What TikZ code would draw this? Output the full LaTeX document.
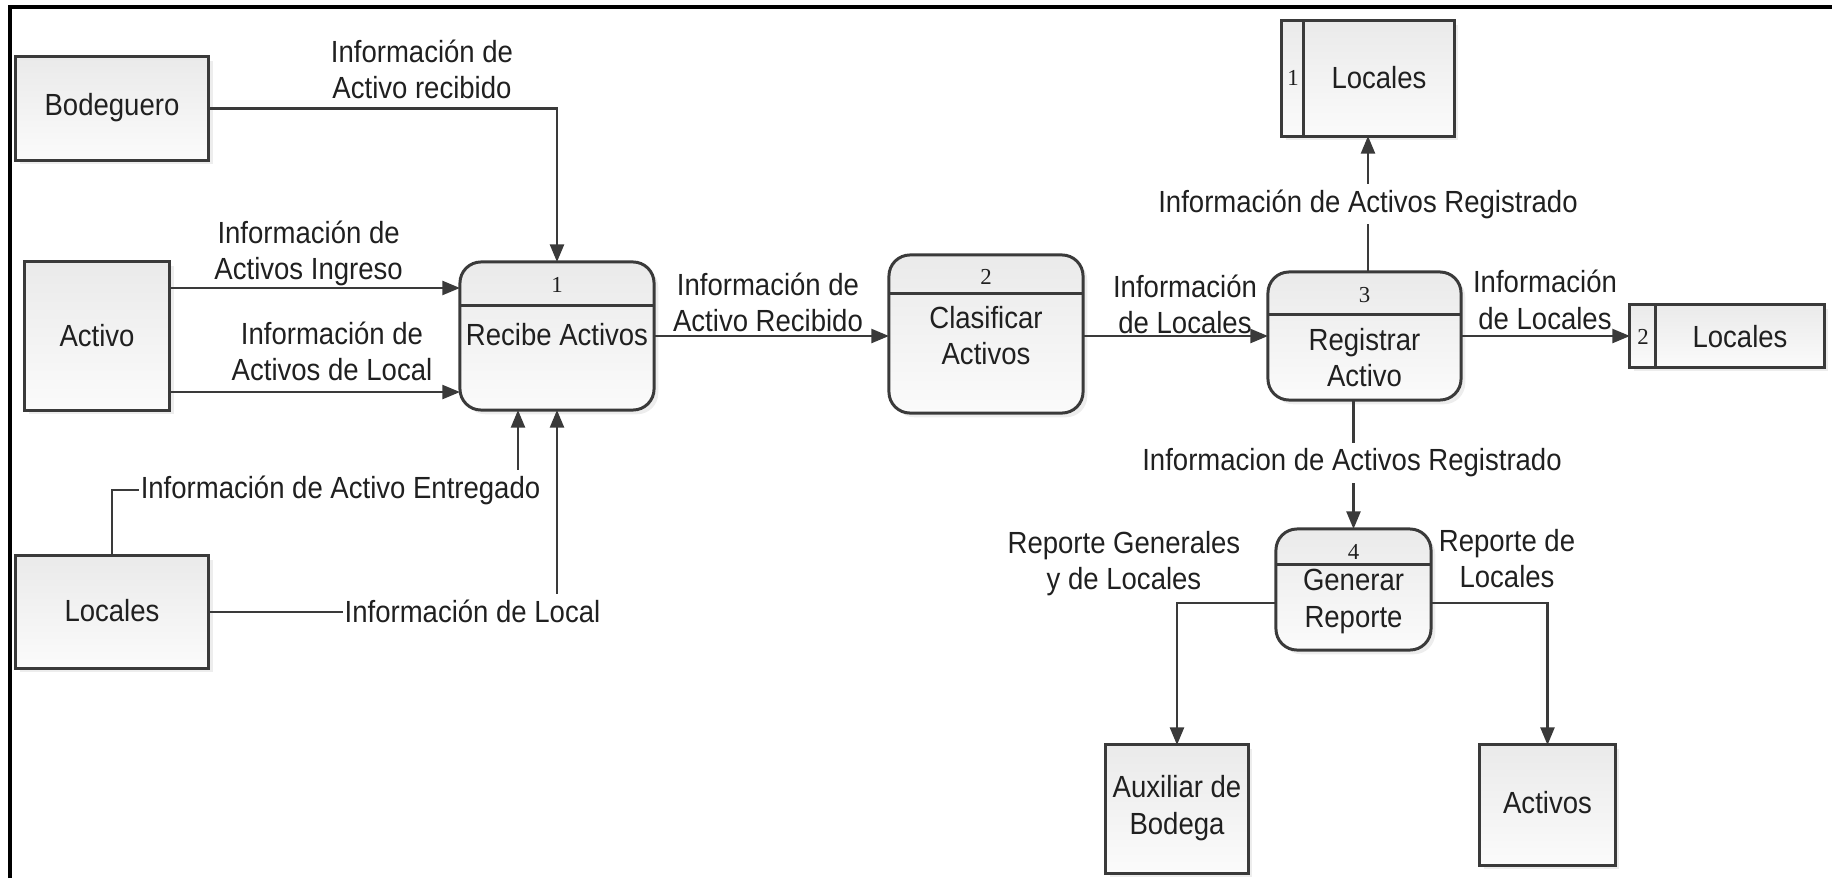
\documentclass[tikz,border=0pt]{standalone}
\usepackage{fontspec}
\setmainfont{Liberation Sans}[FakeStretch=0.9]
\newfontfamily\numfont{Liberation Serif}
\usetikzlibrary{arrows.meta,shadows}
\definecolor{linec}{RGB}{58,58,58}
\definecolor{textc}{RGB}{32,32,32}
\definecolor{topc}{RGB}{234,234,234}
\definecolor{botc}{RGB}{251,251,251}
\newcommand\lblfont{\fontsize{8.7}{10.4}\selectfont}
\tikzset{
  ln/.style={draw=linec, line width=0.6pt},
  arr/.style={ln, -{Triangle[length=5pt,width=4pt]}},
  ent/.style={draw=linec, line width=0.85pt, top color=topc, bottom color=botc,
    drop shadow={shadow xshift=1.2pt, shadow yshift=-1.2pt, fill=black, opacity=0.07},
    inner sep=0pt, outer sep=0pt},
  proc/.style={ent, rounded corners=6pt},
  txt/.style={text=textc, font=\lblfont, align=center, inner sep=0pt},
  wlbl/.style={txt, fill=white, inner xsep=0.6pt, inner ysep=1.5pt},
  num/.style={font=\numfont\fontsize{6.5}{7}\selectfont, text=textc, inner sep=0pt}
}
\begin{document}
\begin{tikzpicture}[x=0.01cm, y=-0.01cm]
\useasboundingbox (0,0) rectangle (1832,878);
% frame (left and top only)
\draw[black, line width=1pt] (10,878) -- (10,7) -- (1832,7);

% external entities
\node[ent, minimum width=1.93cm, minimum height=1.03cm] (bod) at (112,108.5) {};
\node[txt] (bodt) at (112,108) {Bodeguero};
\node[ent, minimum width=1.45cm, minimum height=1.48cm] (act) at (97,336) {};
\node[txt] (actt) at (97,336) {Activo};
\node[ent, minimum width=1.93cm, minimum height=1.12cm] (locL) at (112,612) {};
\node[txt] (locLt) at (112,611) {Locales};
\node[ent, minimum width=1.42cm, minimum height=1.28cm] (aux) at (1177,809) {};
\node[txt] (auxt) at (1177,808) {Auxiliar de\\Bodega};
\node[ent, minimum width=1.35cm, minimum height=1.20cm] (actb) at (1547.5,805) {};
\node[txt] (actbt) at (1547.5,803) {Activos};

% data stores
\node[ent, minimum width=1.72cm, minimum height=1.15cm] (s1) at (1368,78.5) {};
\draw[ln, line width=0.85pt] ([xshift=0.22cm]s1.north west) -- ([xshift=0.22cm]s1.south west);
\node[num] (s1n) at (1293,78) {1};
\node[txt] (s1t) at (1379,78) {Locales};
\node[ent, minimum width=1.94cm, minimum height=0.62cm] (s2) at (1727,336) {};
\draw[ln, line width=0.85pt] ([xshift=0.26cm]s2.north west) -- ([xshift=0.26cm]s2.south west);
\node[num] (s2n) at (1643,337) {2};
\node[txt] (s2t) at (1740,337) {Locales};

% processes
\node[proc, minimum width=1.94cm, minimum height=1.48cm] (p1) at (557,336) {};
\draw[ln, line width=0.85pt] (p1.west |- 0,305) -- (p1.east |- 0,305);
\node[num] (p1n) at (557,285) {1};
\node[txt] (p1t) at (557,335) {Recibe Activos};

\node[proc, minimum width=1.94cm, minimum height=1.58cm] (p2) at (986,334) {};
\draw[ln, line width=0.85pt] (p2.west |- 0,293) -- (p2.east |- 0,293);
\node[num] (p2n) at (986,277) {2};
\node[txt] (p2t) at (986,335.5) {Clasificar\\Activos};

\node[proc, minimum width=1.93cm, minimum height=1.28cm] (p3) at (1364.5,336) {};
\draw[ln, line width=0.85pt] (p3.west |- 0,314) -- (p3.east |- 0,314);
\node[num] (p3n) at (1364.5,295) {3};
\node[txt] (p3t) at (1364.5,357.5) {Registrar\\Activo};

\node[proc, minimum width=1.55cm, minimum height=1.21cm] (p4) at (1353.5,589.5) {};
\draw[ln, line width=0.85pt] (p4.west |- 0,564) -- (p4.east |- 0,564);
\node[num] (p4n) at (1353.5,552) {4};
\node[txt] (p4t) at (1353.5,601.5) {Generar\\Reporte};

% flows
\draw[arr] (bod.east) -| (p1.north);
\node[txt] (l1) at (422,69.5) {Información de\\Activo recibido};

\draw[arr] ([yshift=0.48cm]act.east) -- ([yshift=0.48cm]act.east -| p1.west);
\node[txt] (l2) at (308.6,253.5) {Información de\\Activos Ingreso};
\draw[arr] ([yshift=-0.56cm]act.east) -- ([yshift=-0.56cm]act.east -| p1.west);
\node[txt] (l3) at (332,351.5) {Información de\\Activos de Local};

\coordinate (entc) at (518,490);
\draw[arr] (locL.north) |- (entc) -- (entc |- p1.south);
\node[wlbl] (l11) at (340.5,490) {Información de Activo Entregado};

\draw[arr] (locL.east) -| (p1.south);
\node[wlbl] (l12) at (472.5,611) {Información de Local};

\draw[arr] (p1.east) -- (p1.east -| p2.west);
\node[txt] (l4) at (768,302.5) {Información de\\Activo Recibido};

\draw[arr] (p3.west -| p2.east) -- (p3.west);
\node[txt] (l5) at (1185,304.5) {Información\\de Locales};

\draw[arr] (p3.east) -- (s2.west);
\node[txt] (l6) at (1545,300) {Información\\de Locales};

\draw[arr] (p3.north -| s1.south) -- (s1.south);
\node[wlbl] (l7) at (1368,204) {Información de Activos Registrado};

\draw[arr] (p3.south -| p4.north) -- (p4.north);
\node[wlbl] (l8) at (1352,463) {Informacion de Activos Registrado};

\draw[arr] ([yshift=-0.135cm]p4.west) -| (aux.north);
\node[txt] (l9) at (1124,563.5) {Reporte Generales\\y de Locales};
\draw[arr] ([yshift=-0.135cm]p4.east) -| (actb.north);
\node[txt] (l10) at (1507,558.5) {Reporte de\\Locales};
\end{tikzpicture}
\end{document}
